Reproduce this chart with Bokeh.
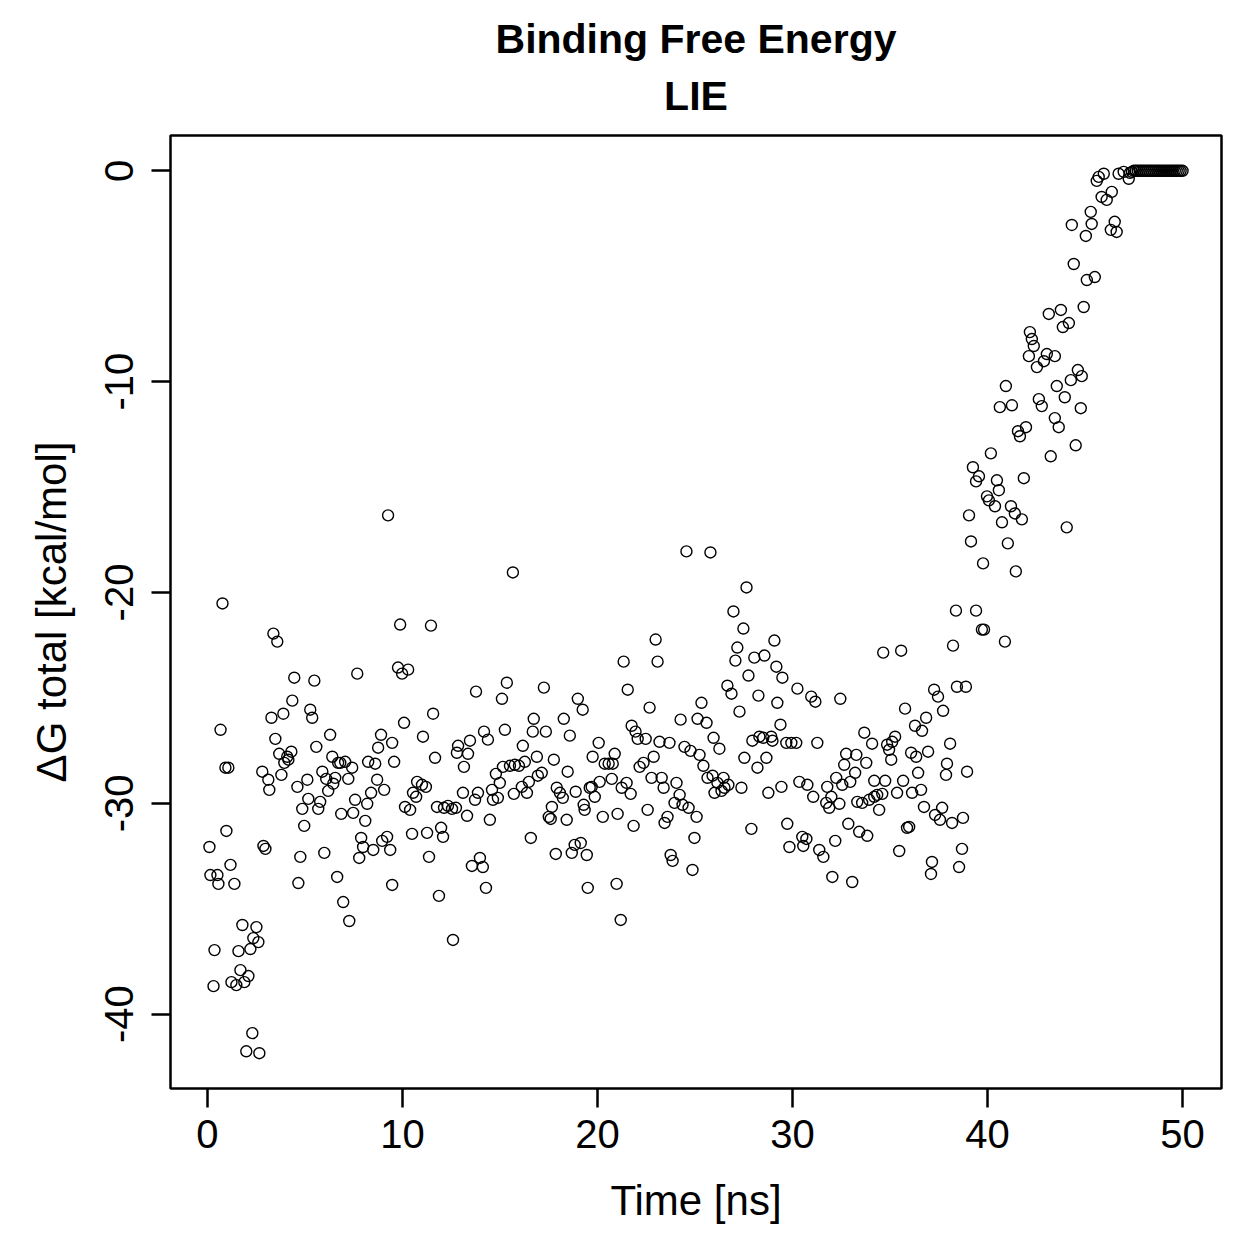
from bokeh.plotting import figure
from bokeh.models import Range1d, FixedTicker, Title
from bokeh.embed import file_html
from bokeh.resources import INLINE

title_lines = ["Binding Free Energy", "LIE"]
x_label = "Time [ns]"
y_label = "\u0394G total [kcal/mol]"
x_ticks = [0, 10, 20, 30, 40, 50]
y_ticks = [-40, -30, -20, -10, 0]

time_ns = [
    0.10, 0.15, 0.31, 0.36, 0.51, 0.56, 0.67, 0.77, 0.92, 0.97, 1.07, 1.18, 1.23, 1.38, 1.48, 1.59, 1.69, 1.79, 1.89, 1.99,
    2.10, 2.20, 2.30, 2.35, 2.51, 2.61, 2.66, 2.81, 2.87, 2.97, 3.12, 3.17, 3.28, 3.38, 3.48, 3.58, 3.68, 3.79, 3.89, 3.94,
    4.09, 4.15, 4.30, 4.35, 4.45, 4.61, 4.66, 4.76, 4.86, 4.96, 5.12, 5.17, 5.27, 5.37, 5.48, 5.58, 5.68, 5.78, 5.89, 5.99,
    6.09, 6.19, 6.29, 6.40, 6.45, 6.55, 6.65, 6.70, 6.81, 6.86, 6.96, 7.06, 7.22, 7.27, 7.42, 7.47, 7.57, 7.68, 7.78, 7.88,
    7.98, 8.09, 8.19, 8.24, 8.39, 8.50, 8.60, 8.70, 8.75, 8.90, 8.96, 9.06, 9.21, 9.26, 9.37, 9.47, 9.47, 9.57, 9.77, 9.88,
    9.98, 10.08, 10.13, 10.29, 10.39, 10.49, 10.54, 10.70, 10.75, 11.00, 11.05, 11.20, 11.26, 11.36, 11.46, 11.57, 11.67, 11.77, 11.87, 11.98,
    12.08, 12.13, 12.33, 12.54, 12.59, 12.74, 12.79, 12.85, 13.10, 13.15, 13.31, 13.36, 13.46, 13.56, 13.72, 13.77, 13.87, 13.97, 14.12, 14.18,
    14.28, 14.38, 14.48, 14.59, 14.64, 14.79, 14.89, 14.99, 15.10, 15.15, 15.25, 15.35, 15.51, 15.66, 15.71, 15.76, 15.97, 16.12, 16.17, 16.27,
    16.38, 16.48, 16.58, 16.68, 16.73, 16.89, 16.94, 17.14, 17.25, 17.35, 17.50, 17.60, 17.66, 17.76, 17.86, 17.91, 18.07, 18.22, 18.27, 18.42,
    18.47, 18.58, 18.68, 18.83, 18.88, 18.99, 19.14, 19.24, 19.29, 19.34, 19.45, 19.50, 19.60, 19.70, 19.75, 19.86, 20.06, 20.11, 20.27, 20.37,
    20.57, 20.73, 20.78, 20.88, 20.98, 21.03, 21.19, 21.24, 21.34, 21.49, 21.55, 21.70, 21.75, 21.85, 21.95, 22.06, 22.16, 22.36, 22.47, 22.57,
    22.67, 22.77, 22.88, 22.98, 23.08, 23.18, 23.29, 23.39, 23.44, 23.59, 23.69, 23.75, 23.85, 23.95, 24.05, 24.21, 24.26, 24.36, 24.46, 24.56,
    24.67, 24.77, 24.87, 24.97, 25.08, 25.13, 25.23, 25.33, 25.43, 25.59, 25.64, 25.79, 25.90, 25.95, 26.00, 26.15, 26.25, 26.36, 26.46, 26.51,
    26.66, 26.71, 26.87, 26.97, 27.07, 27.17, 27.28, 27.38, 27.48, 27.53, 27.64, 27.74, 27.89, 27.94, 28.04, 28.20, 28.25, 28.30, 28.50, 28.56,
    28.66, 28.76, 28.91, 28.97, 29.07, 29.17, 29.22, 29.38, 29.43, 29.48, 29.68, 29.73, 29.84, 29.94, 30.19, 30.25, 30.35, 30.50, 30.55, 30.71,
    30.76, 30.96, 31.06, 31.17, 31.27, 31.37, 31.58, 31.73, 31.78, 31.88, 31.99, 32.04, 32.19, 32.24, 32.40, 32.45, 32.55, 32.65, 32.75, 32.86,
    32.96, 33.06, 33.21, 33.27, 33.32, 33.42, 33.57, 33.68, 33.78, 33.83, 33.93, 34.08, 34.19, 34.19, 34.34, 34.44, 34.60, 34.65, 34.75, 34.85,
    34.95, 35.06, 35.11, 35.26, 35.36, 35.47, 35.57, 35.67, 35.77, 35.87, 35.98, 36.08, 36.13, 36.28, 36.34, 36.44, 36.59, 36.64, 36.74, 36.85,
    36.95, 37.10, 37.15, 37.26, 37.31, 37.46, 37.56, 37.67, 37.72, 37.87, 37.92, 38.08, 38.18, 38.23, 38.38, 38.43, 38.54, 38.69, 38.74, 38.89,
    38.95, 39.05, 39.15, 39.25, 39.41, 39.41, 39.56, 39.71, 39.77, 39.82, 39.97, 40.07, 40.17, 40.38, 40.48, 40.58, 40.63, 40.74, 40.89, 40.94,
    41.04, 41.20, 41.25, 41.40, 41.45, 41.56, 41.66, 41.76, 41.86, 41.97, 42.12, 42.17, 42.27, 42.37, 42.53, 42.63, 42.78, 42.89, 43.04, 43.14,
    43.24, 43.45, 43.45, 43.55, 43.65, 43.76, 43.86, 43.96, 44.06, 44.17, 44.27, 44.32, 44.42, 44.52, 44.63, 44.78, 44.83, 44.93, 45.04, 45.09,
    45.29, 45.34, 45.50, 45.60, 45.70, 45.85, 45.96, 46.11, 46.32, 46.37, 46.52, 46.62, 46.72, 46.98, 47.24, 47.30, 47.40, 47.50, 47.60, 47.70,
    47.80, 47.90, 48.00, 48.10, 48.20, 48.30, 48.40, 48.50, 48.60, 48.70, 48.80, 48.90, 49.00, 49.10, 49.20, 49.30, 49.40, 49.50, 49.60, 49.70,
    49.80, 49.90, 50.00,
]

dg_total = [
    -32.07, -33.40, -38.67, -36.96, -33.40, -33.82, -26.51, -20.52, -28.31, -31.31, -28.31, -32.92, -38.48, -33.82, -38.62, -37.01, -37.91, -35.77, -38.48, -41.76,
    -38.19, -36.91, -40.90, -36.39, -35.87, -36.58, -41.85, -28.50, -32.02, -32.16, -28.88, -29.36, -25.94, -21.95, -26.94, -22.33, -27.65, -28.65, -25.75, -28.08,
    -27.79, -27.93, -27.55, -25.13, -24.04, -29.22, -33.78, -32.54, -30.26, -31.07, -28.88, -29.79, -25.56, -25.94, -24.18, -27.32, -30.26, -29.93, -28.50, -32.35,
    -28.84, -29.41, -26.75, -27.79, -29.07, -28.79, -33.49, -28.08, -28.08, -30.50, -34.68, -28.03, -28.84, -35.58, -28.31, -30.45, -29.83, -23.85, -32.59, -31.64,
    -32.07, -30.83, -30.02, -28.03, -29.50, -32.21, -28.12, -28.88, -27.36, -26.75, -31.78, -29.36, -31.59, -16.34, -32.21, -27.13, -33.87, -28.03, -23.56, -21.52,
    -23.85, -26.18, -30.17, -23.66, -30.31, -31.45, -29.50, -29.69, -28.98, -29.12, -26.84, -29.22, -31.40, -32.54, -21.57, -25.75, -27.84, -30.17, -34.39, -31.16,
    -31.59, -30.21, -30.12, -30.26, -36.48, -30.21, -27.60, -27.27, -29.50, -28.27, -30.59, -27.65, -27.03, -32.97, -29.83, -24.70, -29.50, -32.59, -33.02, -26.60,
    -34.01, -26.98, -30.78, -29.36, -29.83, -28.60, -29.74, -29.03, -25.04, -28.27, -26.51, -24.28, -28.22, -19.05, -29.55, -28.17, -28.22, -29.22, -27.27, -28.03,
    -29.50, -28.98, -31.64, -26.60, -25.99, -27.79, -28.69, -28.55, -24.51, -26.60, -30.64, -30.74, -30.17, -27.93, -32.40, -29.26, -29.50, -29.74, -25.99, -30.78,
    -28.50, -26.79, -32.35, -31.97, -29.45, -25.04, -31.88, -25.56, -30.07, -30.31, -32.45, -34.01, -29.26, -29.22, -27.79, -29.69, -27.13, -28.98, -30.64, -28.12,
    -28.12, -28.84, -28.12, -27.65, -33.82, -30.50, -35.53, -29.26, -23.28, -29.03, -24.61, -29.55, -26.32, -31.07, -26.60, -26.94, -28.27, -28.08, -26.94, -30.31,
    -25.46, -28.79, -27.79, -22.23, -23.28, -27.08, -28.79, -29.26, -30.93, -30.64, -27.13, -32.45, -32.73, -29.98, -29.03, -29.60, -26.03, -30.07, -27.32, -18.05,
    -30.21, -27.51, -33.16, -31.64, -30.64, -25.99, -27.70, -25.23, -28.22, -26.18, -28.79, -18.10, -28.69, -26.89, -29.50, -29.03, -27.41, -29.41, -28.79, -29.26,
    -24.42, -29.12, -24.80, -20.90, -23.23, -22.61, -25.65, -29.26, -21.71, -27.84, -19.76, -23.94, -31.21, -27.03, -23.09, -28.31, -24.89, -26.84, -26.89, -22.99,
    -27.84, -29.50, -26.84, -27.03, -22.28, -23.52, -25.23, -26.27, -29.22, -24.04, -27.13, -30.97, -32.07, -27.13, -27.13, -24.56, -28.98, -31.59, -32.02, -31.69,
    -29.12, -24.94, -29.69, -25.18, -27.13, -32.21, -32.54, -29.98, -29.22, -30.21, -29.69, -33.49, -31.78, -28.79, -30.02, -25.04, -29.12, -28.17, -27.65, -30.97,
    -28.98, -33.73, -28.55, -27.70, -29.93, -31.35, -29.98, -26.65, -28.08, -31.54, -29.83, -27.17, -29.69, -28.93, -29.60, -30.31, -29.55, -22.85, -28.93, -27.22,
    -27.46, -27.93, -27.08, -26.84, -29.50, -32.26, -22.76, -28.93, -25.51, -31.16, -31.12, -27.60, -29.50, -26.32, -27.79, -28.55, -29.36, -26.56, -30.17, -25.94,
    -27.55, -33.35, -32.78, -24.61, -30.55, -24.94, -30.78, -30.21, -25.61, -28.65, -28.12, -27.17, -30.93, -22.52, -20.86, -24.47, -33.02, -32.16, -30.69, -24.47,
    -28.50, -16.34, -17.58, -14.06, -20.86, -14.73, -14.49, -21.76, -18.62, -21.76, -15.44, -15.63, -13.40, -15.91, -14.68, -15.15, -11.21, -16.67, -22.33, -10.21,
    -17.67, -15.91, -11.12, -16.25, -19.00, -12.35, -12.59, -16.53, -14.58, -12.16, -8.79, -7.65, -7.98, -8.31, -9.31, -10.83, -11.16, -9.03, -8.69, -6.79,
    -13.54, -8.79, -11.73, -10.21, -12.16, -6.60, -7.41, -10.74, -16.91, -7.22, -9.93, -2.57, -4.42, -13.02, -9.45, -11.26, -9.74, -6.46, -3.09, -5.18,
    -1.95, -2.52, -5.04, -0.48, -0.29, -1.24, -0.14, -1.38, -2.80, -1.00, -2.42, -2.90, -0.14, -0.05, -0.38, -0.10, -0.05, 0.00, 0.00, 0.00,
    0.00, 0.00, 0.00, 0.00, 0.00, 0.00, 0.00, 0.00, 0.00, 0.00, 0.00, 0.00, 0.00, 0.00, 0.00, 0.00, 0.00, 0.00, 0.00, 0.00,
    0.00, 0.00, 0.00,
]

# R-style axis ranges: data range extended by 4% on each side
x_span = max(time_ns) - min(time_ns)
y_span = max(dg_total) - min(dg_total)
x_range = Range1d(min(time_ns) - 0.04 * x_span, max(time_ns) + 0.04 * x_span)
y_range = Range1d(min(dg_total) - 0.04 * y_span, max(dg_total) + 0.04 * y_span)

FONT = "Liberation Sans"

p = figure(width=1259, height=1259, output_backend="svg", toolbar_location=None,
           x_range=x_range, y_range=y_range, title=None,
           min_border_left=170, min_border_right=38, min_border_top=135, min_border_bottom=171,
           background_fill_color="white", border_fill_color="white",
           outline_line_color="black", outline_line_width=2.5)
p.grid.visible = False

p.scatter(time_ns, dg_total, marker="circle", size=11, fill_color=None,
          line_color="black", line_width=1.4)

for ax in (p.xaxis[0], p.yaxis[0]):
    ax.axis_line_color = None
    ax.major_tick_in = 0
    ax.major_tick_out = 19
    ax.minor_tick_in = 0
    ax.minor_tick_out = 0
    ax.major_tick_line_width = 2.5
    ax.major_tick_line_color = "black"
    ax.major_label_text_font = FONT
    ax.major_label_text_font_size = "40px"
    ax.major_label_text_color = "black"
    ax.axis_label_text_font = FONT
    ax.axis_label_text_font_size = "42px"
    ax.axis_label_text_font_style = "normal"
    ax.axis_label_text_color = "black"

p.xaxis.ticker = FixedTicker(ticks=x_ticks)
p.xaxis.major_label_overrides = {v: str(v) for v in x_ticks}
p.xaxis.axis_label = x_label
p.xaxis.major_label_standoff = 12
p.xaxis.axis_label_standoff = 26

p.yaxis.ticker = FixedTicker(ticks=y_ticks)
p.yaxis.major_label_overrides = {v: str(v) for v in y_ticks}
p.yaxis.major_label_orientation = "vertical"
p.yaxis.axis_label = y_label
p.yaxis.major_label_standoff = 18
p.yaxis.axis_label_standoff = 28

p.add_layout(Title(text=title_lines[1], align="center", text_font=FONT, text_font_size="41px",
                   text_font_style="bold", text_color="black", standoff=33), "above")
p.add_layout(Title(text=title_lines[0], align="center", text_font=FONT, text_font_size="41px",
                   text_font_style="bold", text_color="black", standoff=-14), "above")

open("out.html", "w").write(file_html(p, INLINE))
